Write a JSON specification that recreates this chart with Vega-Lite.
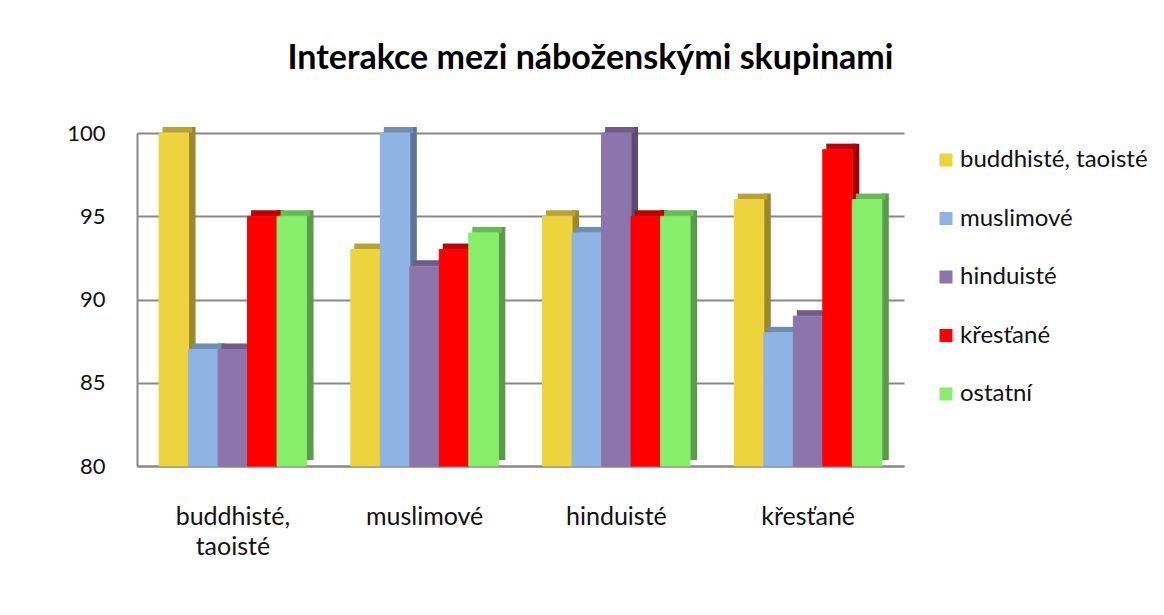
{
  "$schema": "https://vega.github.io/schema/vega-lite/v6.json",
  "autosize": "none",
  "width": 767,
  "height": 333,
  "padding": {"left": 137, "top": 133, "right": 260, "bottom": 149},
  "background": "white",
  "title": {
    "text": "Interakce mezi náboženskými skupinami",
    "font": "Lato",
    "fontSize": 34,
    "fontWeight": "bold",
    "color": "#000000",
    "anchor": "middle",
    "dx": 70,
    "offset": 46
  },
  "data": {
    "values": [
      {"group": "buddhisté, taoisté", "series": "buddhisté, taoisté", "value": 100},
      {"group": "buddhisté, taoisté", "series": "muslimové", "value": 87},
      {"group": "buddhisté, taoisté", "series": "hinduisté", "value": 87},
      {"group": "buddhisté, taoisté", "series": "křesťané", "value": 95},
      {"group": "buddhisté, taoisté", "series": "ostatní", "value": 95},
      {"group": "muslimové", "series": "buddhisté, taoisté", "value": 93},
      {"group": "muslimové", "series": "muslimové", "value": 100},
      {"group": "muslimové", "series": "hinduisté", "value": 92},
      {"group": "muslimové", "series": "křesťané", "value": 93},
      {"group": "muslimové", "series": "ostatní", "value": 94},
      {"group": "hinduisté", "series": "buddhisté, taoisté", "value": 95},
      {"group": "hinduisté", "series": "muslimové", "value": 94},
      {"group": "hinduisté", "series": "hinduisté", "value": 100},
      {"group": "hinduisté", "series": "křesťané", "value": 95},
      {"group": "hinduisté", "series": "ostatní", "value": 95},
      {"group": "křesťané", "series": "buddhisté, taoisté", "value": 96},
      {"group": "křesťané", "series": "muslimové", "value": 88},
      {"group": "křesťané", "series": "hinduisté", "value": 89},
      {"group": "křesťané", "series": "křesťané", "value": 99},
      {"group": "křesťané", "series": "ostatní", "value": 96}
    ]
  },
  "encoding": {
    "x": {
      "field": "group",
      "type": "nominal",
      "sort": ["buddhisté, taoisté", "muslimové", "hinduisté", "křesťané"],
      "scale": {"paddingInner": 0.23, "paddingOuter": 0.115},
      "axis": {
        "title": null,
        "labelAngle": 0,
        "labelFont": "Lato",
        "labelFontSize": 25,
        "labelColor": "#111111",
        "labelPadding": 38,
        "labelLineHeight": 30,
        "labelLimit": 300,
        "labelExpr": "datum.label == 'buddhisté, taoisté' ? ['buddhisté,', 'taoisté'] : datum.label",
        "ticks": false,
        "domainColor": "#888888",
        "domainWidth": 2
      }
    }
  },
  "layer": [
    {
      "mark": {"type": "bar", "width": 7, "yOffset": -6, "y2Offset": -6},
      "encoding": {
        "xOffset": {
          "field": "series",
          "type": "nominal",
          "sort": ["buddhisté, taoisté", "muslimové", "hinduisté", "křesťané", "ostatní"],
          "scale": {"paddingInner": 0, "paddingOuter": 0, "range": [18.25, 165.75]}
        },
        "y": {
          "field": "value",
          "type": "quantitative",
          "scale": {"domain": [80, 100], "zero": false},
          "axis": {
            "title": null,
            "values": [80, 85, 90, 95, 100],
            "labelFont": "Lato",
            "labelFontSize": 22,
            "labelColor": "#111111",
            "labelPadding": 32,
            "ticks": false,
            "grid": true,
            "gridColor": "#888888",
            "gridWidth": 2,
            "domainColor": "#888888",
            "domainWidth": 2
          }
        },
        "y2": {"datum": 80},
        "fill": {
          "field": "series",
          "type": "nominal",
          "sort": ["buddhisté, taoisté", "muslimové", "hinduisté", "křesťané", "ostatní"],
          "scale": {"range": ["#9C8828", "#5B7397", "#5C4B73", "#A00000", "#5A9A48"]},
          "legend": null
        }
      }
    },
    {
      "mark": {"type": "bar", "yOffset": -6},
      "encoding": {
        "xOffset": {
          "field": "series",
          "type": "nominal",
          "sort": ["buddhisté, taoisté", "muslimové", "hinduisté", "křesťané", "ostatní"],
          "scale": {"paddingInner": 0, "paddingOuter": 0, "range": [3.5, 151]}
        },
        "y": {"field": "value", "type": "quantitative"},
        "y2": {"field": "value"},
        "color": {
          "field": "series",
          "type": "nominal",
          "sort": ["buddhisté, taoisté", "muslimové", "hinduisté", "křesťané", "ostatní"],
          "scale": {"range": ["#B9A232", "#6E8FB5", "#6F5C8A", "#C00000", "#66BB55"]},
          "legend": null
        }
      }
    },
    {
      "mark": {"type": "bar"},
      "encoding": {
        "xOffset": {
          "field": "series",
          "type": "nominal",
          "sort": ["buddhisté, taoisté", "muslimové", "hinduisté", "křesťané", "ostatní"],
          "scale": {"paddingInner": 0, "paddingOuter": 0, "range": [0, 147.5]}
        },
        "y": {"field": "value", "type": "quantitative"},
        "y2": {"datum": 80},
        "stroke": {
          "field": "series",
          "type": "nominal",
          "sort": ["buddhisté, taoisté", "muslimové", "hinduisté", "křesťané", "ostatní"],
          "scale": {"range": ["#EDD43E", "#8FB4E3", "#8B75AC", "#FF0000", "#86EE6A"]},
          "legend": null
        },
        "fill": {
          "field": "series",
          "type": "nominal",
          "sort": ["buddhisté, taoisté", "muslimové", "hinduisté", "křesťané", "ostatní"],
          "scale": {"range": ["#EDD43E", "#8FB4E3", "#8B75AC", "#FF0000", "#86EE6A"]},
          "legend": {
            "title": null,
            "orient": "none",
            "legendX": 797,
            "legendY": 15,
            "symbolType": "square",
            "symbolSize": 169,
            "symbolStrokeWidth": 0,
            "labelFont": "Lato",
            "labelFontSize": 24,
            "labelColor": "#111111",
            "labelOffset": 2,
            "labelLimit": 300,
            "rowPadding": 34.5
          }
        }
      }
    }
  ],
  "resolve": {"scale": {"xOffset": "independent", "fill": "independent", "color": "independent", "stroke": "independent"}},
  "config": {"view": {"stroke": null}}
}
